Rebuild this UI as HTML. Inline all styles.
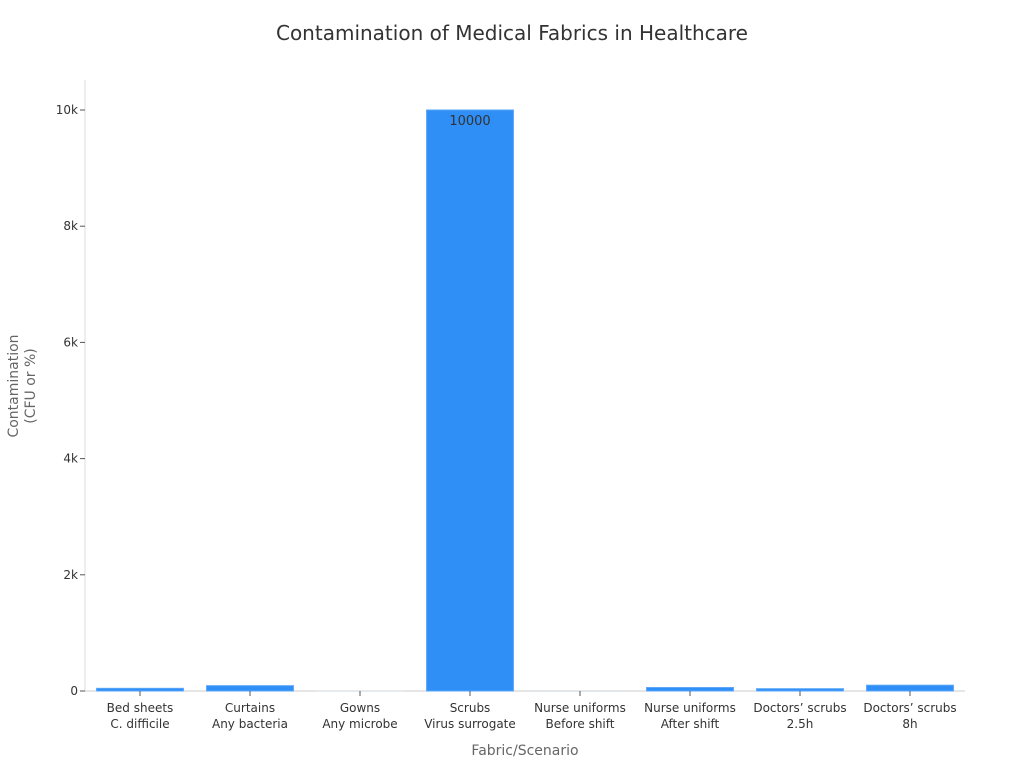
<!DOCTYPE html>
<html><head><meta charset="utf-8"><style>
body{margin:0;background:#fff;font-family:"Liberation Sans","DejaVu Sans",sans-serif;}
svg text{font-family:"DejaVu Sans","Liberation Sans",sans-serif;}
</style></head><body>
<svg id="c" width="1024" height="768">
<text x="512" y="40" text-anchor="middle" font-size="20" fill="#333">Contamination of Medical Fabrics in Healthcare</text>
<text x="525" y="755" text-anchor="middle" font-size="14" fill="#666">Fabric/Scenario</text>
<text transform="translate(18,386) rotate(-90)" text-anchor="middle" font-size="14" fill="#666"><tspan x="0" dy="0">Contamination</tspan><tspan x="0" dy="17">(CFU or %)</tspan></text>
<g id="g"></g>
</svg>
<script>
const cats1=["Bed sheets","Curtains","Gowns","Scrubs","Nurse uniforms","Nurse uniforms","Doctors’ scrubs","Doctors’ scrubs"];
const cats2=["C. difficile","Any bacteria","Any microbe","Virus surrogate","Before shift","After shift","2.5h","8h"];
const values=[46,92,3,10000,0,60,40,100];
const yTicks=[0,2000,4000,6000,8000,10000];
const yLabels=["0","2k","4k","6k","8k","10k"];
const NS="http://www.w3.org/2000/svg";
const g=document.getElementById('g');
const L=85,R=965,T=80,B=691,ymax=10000,y10k=110;
const y=v=>B-(B-y10k)*v/ymax;
const bw=(R-L)/cats1.length;
const x=i=>L+bw*(i+0.5);
function mk(t,a){const e=document.createElementNS(NS,t);for(const k in a)e.setAttribute(k,a[k]);g.appendChild(e);return e;}
let e=mk('line',{x1:L,y1:T,x2:L,y2:B,stroke:'#ddd'});


e=mk('line',{x1:L,y1:B,x2:R,y2:B,stroke:'#ccc'});


yTicks.forEach((v,i)=>{
 let t=mk('line',{x1:L-5,y1:y(v),x2:L,y2:y(v),stroke:'#555'});
 
 
 let l=mk('text',{x:L-7,y:y(v)+4,'text-anchor':'end','font-size':12,fill:'#333'});
 l.textContent=yLabels[i];
 
 
});
values.forEach((v,i)=>{
 const w=bw*0.79, top=y(v);
 let r=mk('rect',{x:x(i)-w/2,y:top,width:w,height:Math.max(B-top,1),fill:v>10?'#2f8ff7':'#dde8f0',stroke:'#5aa6f9','stroke-width':v>10?1:0});
 
 
 if(v>=1000){let t=mk('text',{x:x(i),y:top+15,'text-anchor':'middle','font-size':13,fill:'#333'});t.textContent=v;
 
 }
 let tk=mk('line',{x1:x(i),y1:B,x2:x(i),y2:B+5,stroke:'#555'});
 
 
 let a=mk('text',{x:x(i),y:B+21,'text-anchor':'middle','font-size':12,fill:'#333'});a.textContent=cats1[i];
 
 
 let b=mk('text',{x:x(i),y:B+37,'text-anchor':'middle','font-size':12,fill:'#333'});b.textContent=cats2[i];
 
 
});
</script>
</body></html>
